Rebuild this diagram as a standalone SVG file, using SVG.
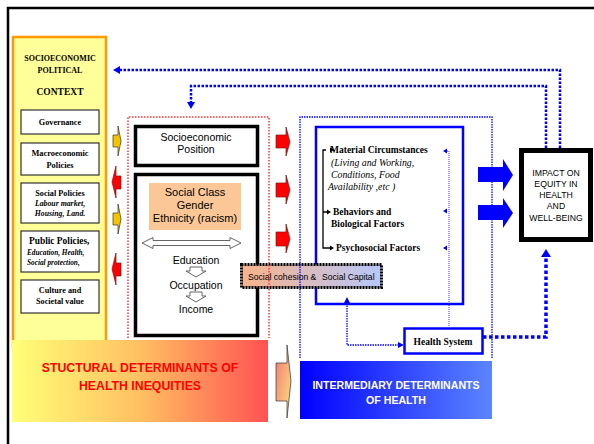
<svg xmlns="http://www.w3.org/2000/svg" width="594" height="444" viewBox="0 0 594 444">
<defs>
<linearGradient id="gStruct" x1="0" y1="0" x2="1" y2="0">
<stop offset="0" stop-color="#FFFF77"/><stop offset="0.5" stop-color="#FFC062"/><stop offset="1" stop-color="#FF5252"/>
</linearGradient>
<linearGradient id="gInter" x1="0" y1="0" x2="1" y2="0">
<stop offset="0" stop-color="#0000FF"/><stop offset="1" stop-color="#5C85FF"/>
</linearGradient>
<linearGradient id="gCoh" x1="0" y1="0" x2="1" y2="0">
<stop offset="0" stop-color="#F8B38A"/><stop offset="1" stop-color="#B6C8FB"/>
</linearGradient>
<linearGradient id="gArr" x1="0" y1="0" x2="1" y2="1">
<stop offset="0" stop-color="#F07878"/><stop offset="1" stop-color="#FFE27A"/>
</linearGradient>
<style>
.serif{font-family:"Liberation Serif","Times New Roman",serif;fill:#000}
.sans{font-family:"Liberation Sans",Arial,sans-serif;fill:#000}
.b{font-weight:bold}
.i{font-style:italic}
.mid{text-anchor:middle}
.sub{fill:#fff;stroke:#333;stroke-width:1.2}
.blk{fill:#fff;stroke:#000;stroke-width:3.5}
.bdot{fill:none;stroke:#0000FF;stroke-width:2.5;stroke-dasharray:2.5 1.5}
.bthin{fill:none;stroke:#0000FF;stroke-width:1.3;stroke-dasharray:1.5 1}
.bhair{fill:none;stroke:#0000FF;stroke-width:0.8;stroke-dasharray:1 1}
.rdot{fill:none;stroke:#FF3333;stroke-width:1.5;stroke-dasharray:1.5 1.5}
.head{fill:#0000FF}
.redarr{fill:#FF0000;stroke:#7a1a1a;stroke-width:0.7}
.yelarr{fill:#F5C400;stroke:#333;stroke-width:0.7}
.bluearr{fill:#0000FF}
.hollow{fill:#fff;stroke:#555;stroke-width:0.9}
</style>
</defs>
<rect width="594" height="444" fill="#fff"/>
<rect x="8" y="8" width="700" height="500" fill="none" stroke="#000" stroke-width="2.5"/>

<g id="context">
<rect x="13" y="37" width="93" height="310" fill="#FFFF99" stroke="#FF9900" stroke-width="2.5"/>
<text class="serif b mid" x="60" y="61" font-size="8">SOCIOECONOMIC</text>
<text class="serif b mid" x="60" y="73" font-size="8">POLITICAL</text>
<text class="serif b mid" x="60" y="95" font-size="9.5">CONTEXT</text>
<g id="governance"><rect class="sub" x="21" y="110" width="78" height="24"/>
<text class="serif b mid" x="60" y="125" font-size="8.2">Governance</text></g>
<g id="macro"><rect class="sub" x="21" y="143" width="78" height="32"/>
<text class="serif b mid" x="60" y="156" font-size="8.4">Macroeconomic</text>
<text class="serif b mid" x="60" y="168" font-size="8.4">Policies</text></g>
<g id="socialpol"><rect class="sub" x="21" y="183" width="78" height="40"/>
<text class="serif b mid" x="60" y="196" font-size="8.2">Social Policies</text>
<text class="serif b i mid" x="60" y="206" font-size="7.8">Labour market,</text>
<text class="serif b i mid" x="60" y="216" font-size="7.8">Housing, Land.</text></g>
<g id="publicpol"><rect class="sub" x="21" y="231" width="78" height="41"/>
<text class="serif b" x="29" y="244" font-size="9.4">Public Policies,</text>
<text class="serif b i" x="27" y="255" font-size="7.3">Education, Health,</text>
<text class="serif b i" x="27" y="265" font-size="7.3">Social protection,</text></g>
<g id="culture"><rect class="sub" x="21" y="280" width="78" height="33"/>
<text class="serif b mid" x="60" y="293" font-size="8.2">Culture and</text>
<text class="serif b mid" x="60" y="304" font-size="8.2">Societal value</text></g>
</g>

<g id="structural">
<rect x="12" y="340" width="256" height="82" fill="url(#gStruct)"/>
<text class="sans b mid" x="140" y="372" font-size="12.3" style="fill:#FF0000">STUCTURAL DETERMINANTS OF</text>
<text class="sans b mid" x="140" y="390" font-size="12.3" style="fill:#FF0000">HEALTH INEQUITIES</text>
</g>

<g id="intermediary">
<rect x="300" y="361" width="192" height="58" fill="url(#gInter)"/>
<text class="sans b mid" x="396" y="389" font-size="10.6" style="fill:#fff">INTERMEDIARY DETERMINANTS</text>
<text class="sans b mid" x="396" y="404" font-size="10.6" style="fill:#fff">OF HEALTH</text>
</g>

<g id="sep">
<rect class="blk" x="135.5" y="126.5" width="122" height="39"/>
<text class="sans mid" x="196" y="141" font-size="10.5">Socioeconomic</text>
<text class="sans mid" x="196" y="153" font-size="10.5">Position</text>
</g>

<g id="stratifiers">
<rect class="blk" x="135.5" y="174.5" width="122" height="161"/>
<rect x="149" y="183" width="92" height="47" fill="#FCC797"/>
<text class="sans mid" x="195" y="196" font-size="11">Social Class</text>
<text class="sans mid" x="195" y="209" font-size="11">Gender</text>
<text class="sans mid" x="195" y="222" font-size="11">Ethnicity (racism)</text>
<polygon class="hollow" points="142,243 153,237.5 153,240.5 230,240.5 230,237.5 241,243 230,248.5 230,245.5 153,245.5 153,248.5"/>
<text class="sans mid" x="196" y="264" font-size="10.5">Education</text>
<polygon class="hollow" points="190,267 202,267 202,271 206,271 196,277 186,271 190,271"/>
<text class="sans mid" x="196" y="289" font-size="10.5">Occupation</text>
<polygon class="hollow" points="190,292 202,292 202,296 206,296 196,302 186,296 190,296"/>
<text class="sans mid" x="196" y="313" font-size="10.5">Income</text>
</g>

<g id="intermed-box">
<rect x="316" y="127" width="147" height="177" fill="#fff" stroke="#0000FF" stroke-width="2.5"/>
<text class="serif b" x="330" y="153" font-size="9.5">Material Circumstances</text>
<text class="serif i" x="331" y="166" font-size="9.8">(Living and Working,</text>
<text class="serif i" x="331" y="178" font-size="9.8">Conditions, Food</text>
<text class="serif i" x="328" y="190" font-size="9.8">Availability ,etc  )</text>
<text class="serif b" x="333" y="215" font-size="9.5">Behaviors and</text>
<text class="serif b" x="331" y="227" font-size="9.5">Biological Factors</text>
<text class="serif b" x="336" y="251" font-size="9.5">Psychosocial Factors</text>
<path d="M326,150 H323 V248 H330 M323,212 H327" fill="none" stroke="#000" stroke-width="1.3"/>
<polygon points="330,147.5 330,152.5 334,150" fill="#000"/>
<polygon points="327,209.5 327,214.5 331,212" fill="#000"/>
<polygon points="330,245.5 330,250.5 334,248" fill="#000"/>
<path class="bhair" d="M449,151 V327 M447,151 H449"/>
<polygon class="head" points="443,151 447,148.5 447,153.5"/>
<polygon class="head" points="443,211 447,208.5 447,213.5"/>
<polygon class="head" points="443,248 447,245.5 447,250.5"/>
</g>

<g id="cohesion">
<rect x="241.5" y="264.5" width="140" height="23" fill="url(#gCoh)" stroke="#000" stroke-width="3" stroke-dasharray="2 1"/>
<text class="sans" x="248" y="280" font-size="8.6">Social cohesion &amp;</text>
<text class="sans" x="322" y="280" font-size="8.6">Social Capital</text>
</g>

<g id="health-system">
<rect x="404.5" y="328.5" width="78" height="25" fill="#fff" stroke="#0000FF" stroke-width="2.5"/>
<text class="serif b mid" x="443" y="345" font-size="9.5">Health System</text>
</g>

<g id="impact">
<rect x="521.5" y="150.5" width="69" height="89" fill="#fff" stroke="#000" stroke-width="5"/>
<text class="sans mid" x="556" y="176" font-size="8.7">IMPACT  ON</text>
<text class="sans mid" x="556" y="187" font-size="8.7">EQUITY IN</text>
<text class="sans mid" x="556" y="198" font-size="8.7">HEALTH</text>
<text class="sans mid" x="556" y="209" font-size="8.7">AND</text>
<text class="sans mid" x="556" y="221" font-size="8.7">WELL-BEING</text>
</g>

<g id="connectors">
<path class="rdot" d="M128,338 V117 H269 V338"/>
<path class="bthin" d="M300,358 V117 H492 V358"/>
<path class="bdot" d="M560,148 V70 H119"/>
<polygon class="head" points="113,70 120,66 120,74"/>
<path class="bdot" d="M546,148 V86 H191 V103"/>
<polygon class="head" points="191,109 187,102 195,102"/>
<path d="M483,337 H546 V256" fill="none" stroke="#0000FF" stroke-width="3.5" stroke-dasharray="3.5 2.5"/>
<polygon class="head" points="546,249 541,257 551,257"/>
<path class="bthin" d="M347,303 V345 H398"/>
<polygon class="head" points="347,297 344,303 350,303"/>
<polygon class="head" points="404,345 398,342 398,348"/>
<polygon class="yelarr" points="113,135 118,135 118,126 121,141 118,156 118,147 113,147"/>
<polygon class="redarr" points="121,176 116,176 116,166 112,182 116,198 116,189 121,189"/>
<polygon class="yelarr" points="113,213 118,213 118,204 121,219 118,234 118,225 113,225"/>
<polygon class="redarr" points="121,263 116,263 116,253 112,269 116,285 116,276 121,276"/>
<polygon class="redarr" points="276,135 286,135 286,127 290,142 286,156 286,148 276,148"/>
<polygon class="redarr" points="276,183 286,183 286,175 290,190 286,204 286,197 276,197"/>
<polygon class="redarr" points="276,232 286,232 286,224 290,239 286,253 286,246 276,246"/>
<polygon points="276,363 287,363 287,345 291,381 287,418 287,401 276,401" fill="url(#gArr)" stroke="#333" stroke-width="0.7"/>
<polygon class="bluearr" points="478,167 503,167 503,159 513,175 503,191 503,182 478,182"/>
<polygon class="bluearr" points="478,205 503,205 503,198 513,213 503,228 503,220 478,220"/>
</g>
</svg>
